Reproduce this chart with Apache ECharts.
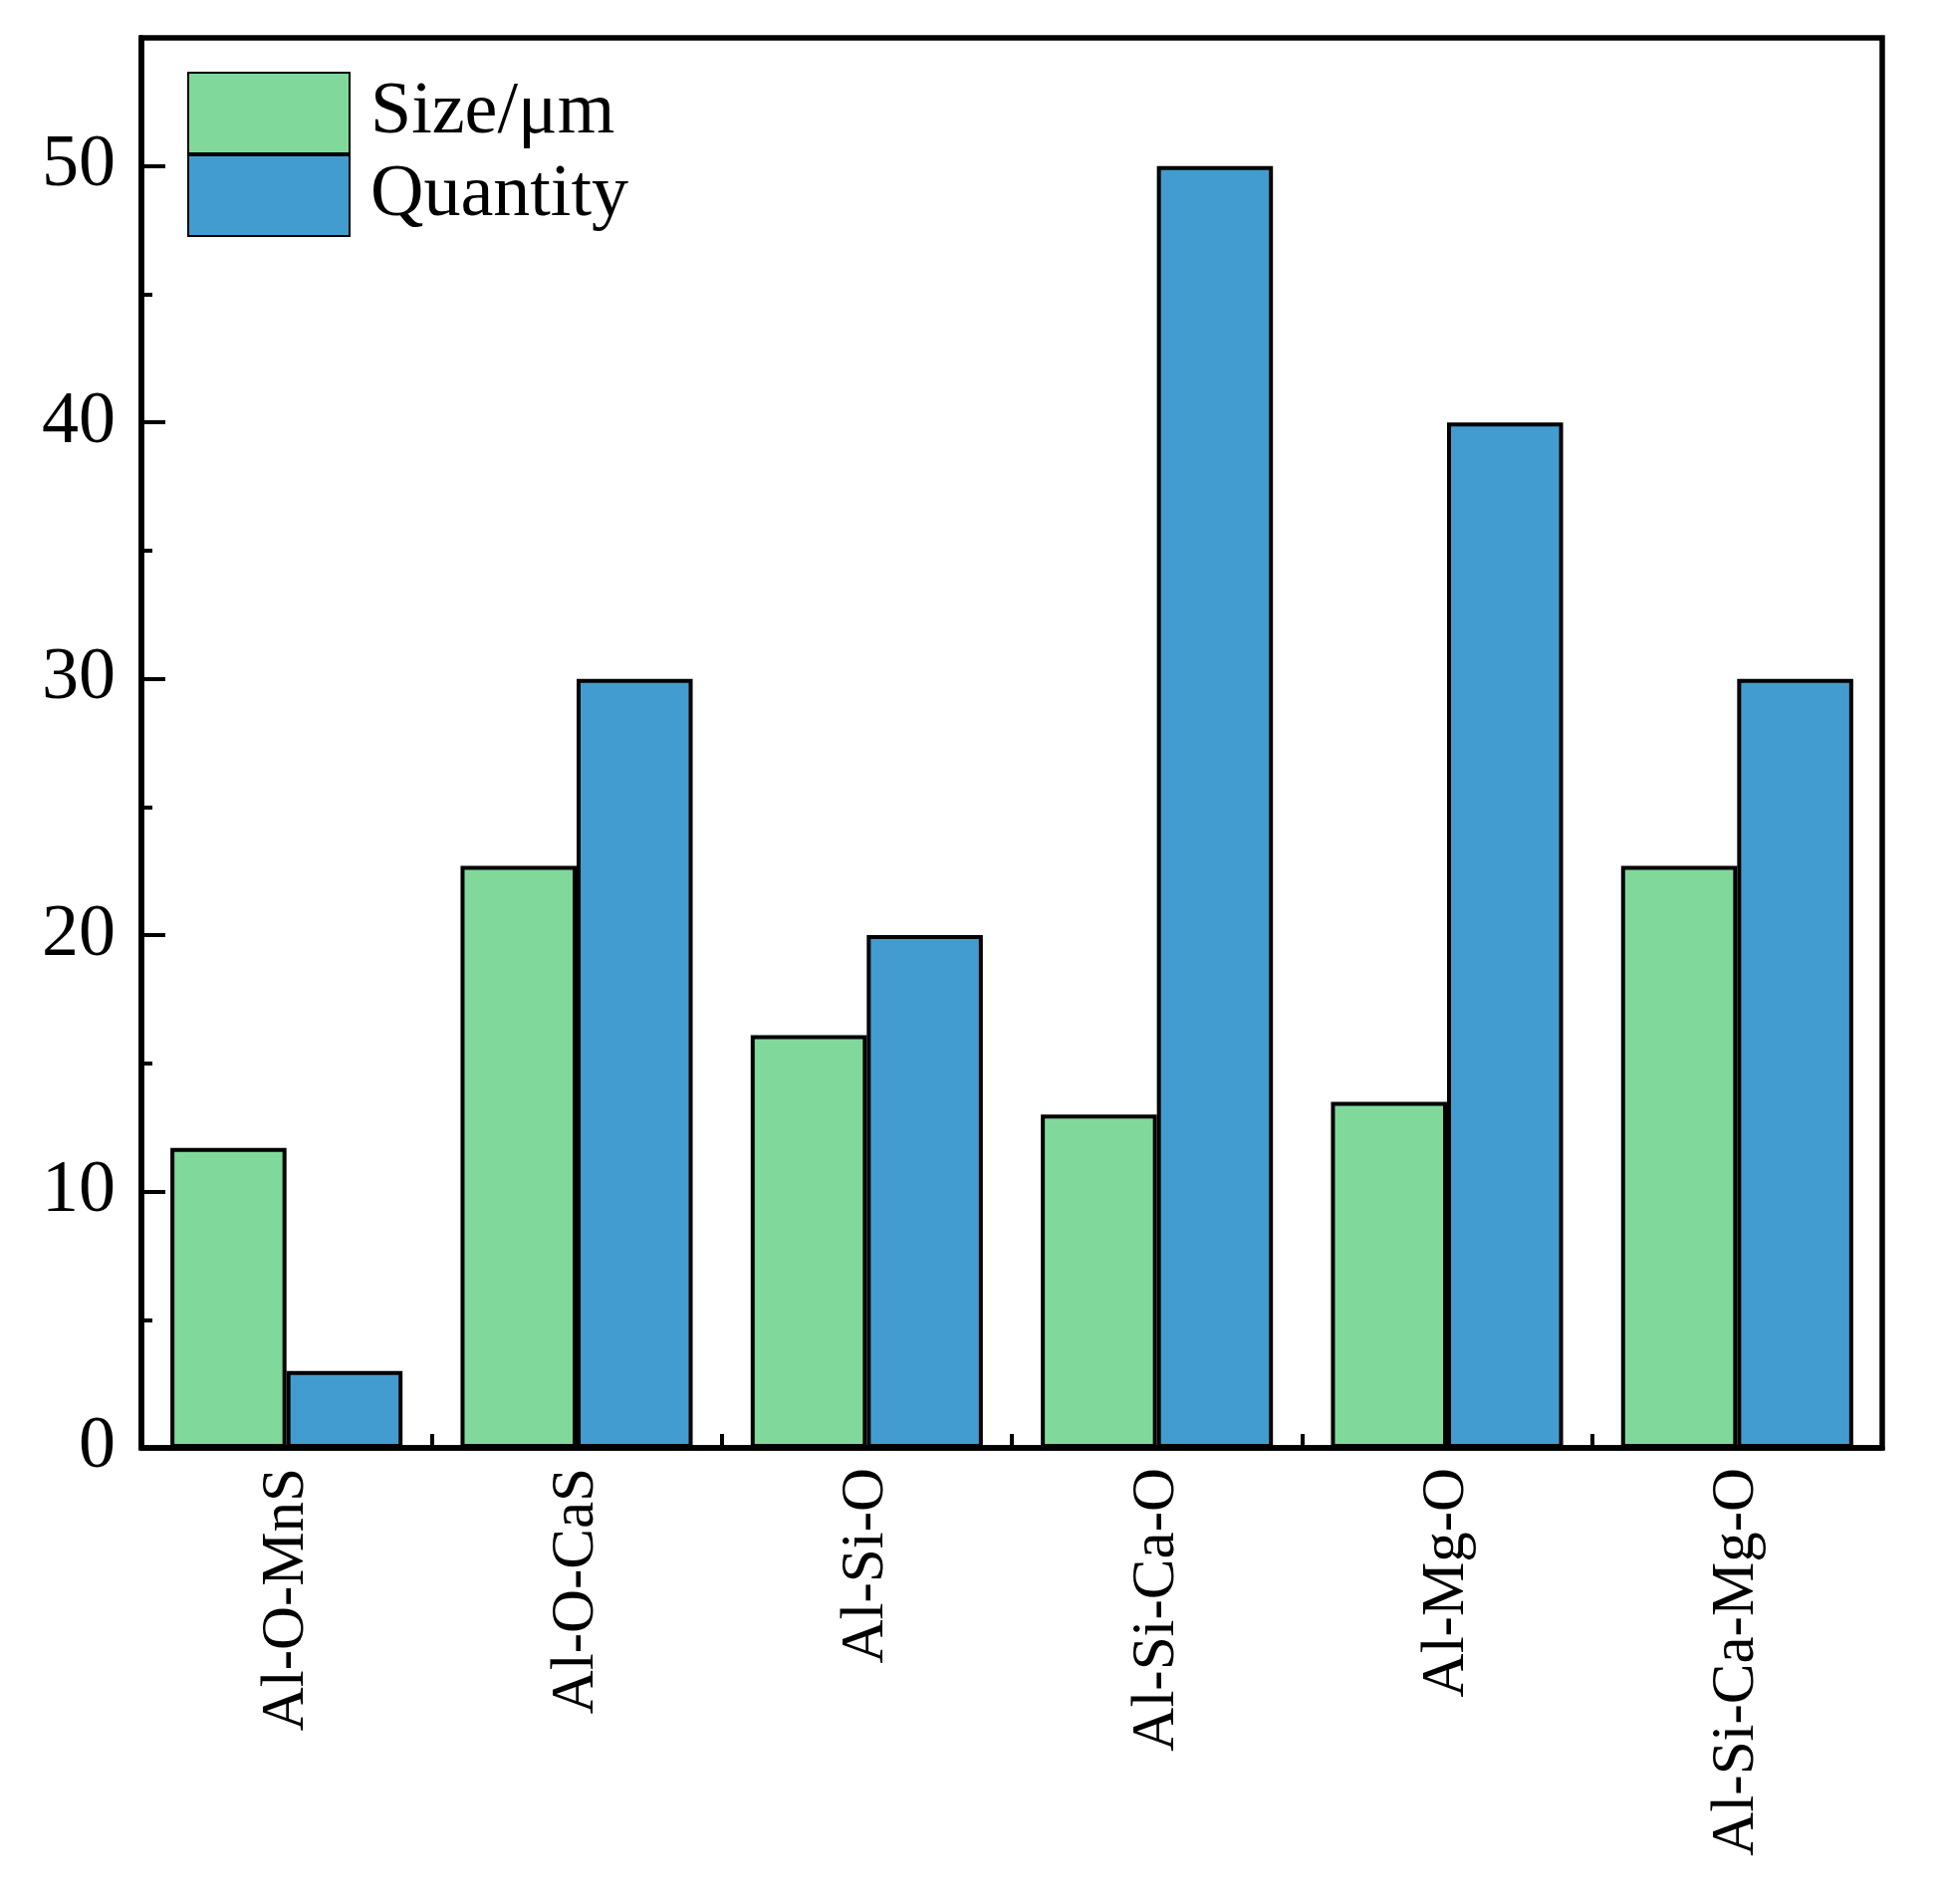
<!DOCTYPE html>
<html>
<head>
<meta charset="utf-8">
<script src="https://cdn.jsdelivr.net/npm/echarts@6/dist/echarts.min.js"></script>
<style>html,body{margin:0;padding:0;background:#fff;}#c{width:1947px;height:1912px;}</style>
</head>
<body>
<div id="c"></div>
<script>
const categories = ['Al-O-MnS', 'Al-O-CaS', 'Al-Si-O', 'Al-Si-Ca-O', 'Al-Mg-O', 'Al-Si-Ca-Mg-O'];
const sizeValues = [11.7, 22.7, 16.1, 13.0, 13.5, 22.7];
const quantityValues = [3, 30, 20, 50, 40, 30];
const seriesNames = ['Size/\u03bcm', 'Quantity'];

const FONT = '"Liberation Serif", "Times New Roman", serif';
const chart = echarts.init(document.getElementById('c'), null, {renderer: 'canvas'});
chart.setOption({
  animation: false,
  backgroundColor: '#fff',
  grid: {left: 142, right: 57, top: 38, bottom: 458, show: true, borderColor: '#000', borderWidth: 5.5, backgroundColor: 'transparent'},
  legend: {
    orient: 'vertical', left: 183, top: 67, itemWidth: 162, itemHeight: 81, itemGap: 0,
    icon: 'rect',
    textStyle: {fontFamily: FONT, fontSize: 74, color: '#000', padding: [6, 0, 0, 16]},
    data: seriesNames
  },
  xAxis: {
    type: 'category', data: categories,
    axisLine: {show: true, lineStyle: {color: '#000', width: 5.5}},
    axisTick: {show: true, inside: true, length: 14, lineStyle: {color: '#000', width: 4}},
    axisLabel: {rotate: 90, margin: 20, fontFamily: FONT, fontSize: 61, color: '#000'},
    splitLine: {show: false}
  },
  yAxis: [{
    type: 'value', min: 0, max: 55, interval: 10,
    axisLine: {show: true, lineStyle: {color: '#000', width: 5.5}},
    axisTick: {show: true, inside: true, length: 24, lineStyle: {color: '#000', width: 4}},
    axisLabel: {margin: 26, fontFamily: FONT, fontSize: 74, color: '#000', showMaxLabel: false},
    splitLine: {show: false}
  }, {
    type: 'value', min: 0, max: 55, interval: 5, position: 'left',
    axisLine: {show: false},
    axisTick: {show: true, inside: true, length: 11, lineStyle: {color: '#000', width: 4}},
    axisLabel: {show: false},
    splitLine: {show: false}
  }],
  series: [{
    name: seriesNames[0], type: 'bar', data: sizeValues, yAxisIndex: 0,
    barGap: '0%', barCategoryGap: '20%',
    itemStyle: {color: '#80D99B', borderColor: '#000', borderWidth: 4}
  }, {
    name: seriesNames[1], type: 'bar', data: quantityValues, yAxisIndex: 0,
    barGap: '0%', barCategoryGap: '20%',
    itemStyle: {color: '#439CCF', borderColor: '#000', borderWidth: 4}
  }]
});
</script>
</body>
</html>
